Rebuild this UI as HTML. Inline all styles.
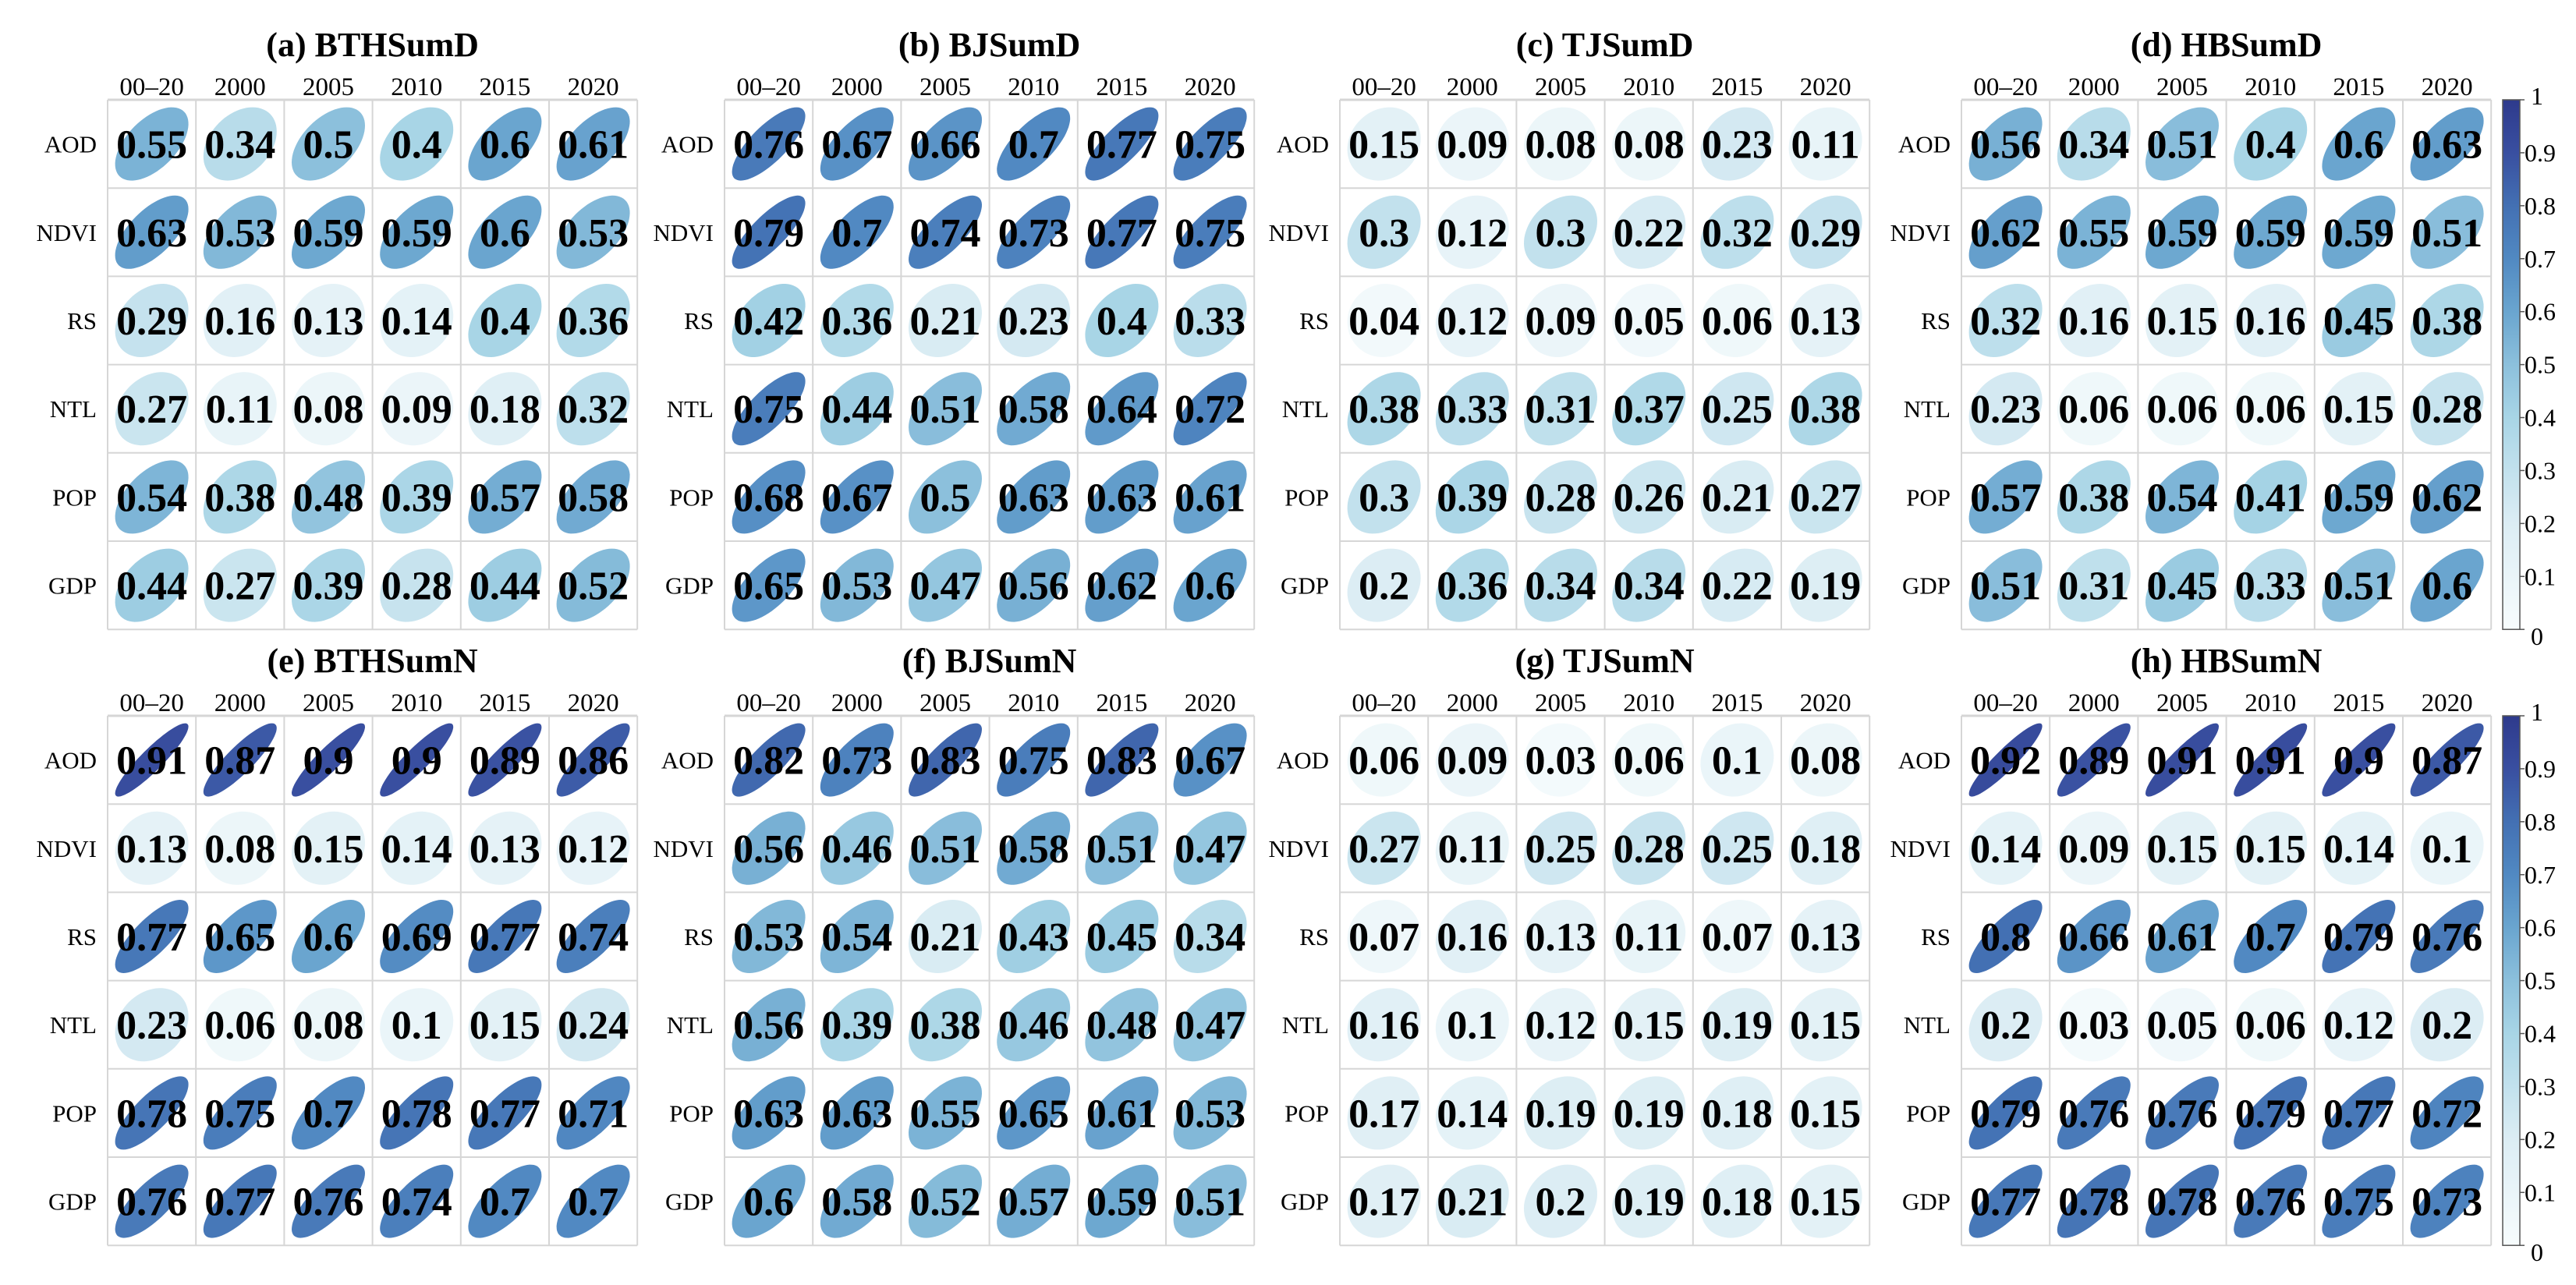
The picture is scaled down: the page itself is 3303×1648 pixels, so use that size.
<!DOCTYPE html>
<html><head><meta charset="utf-8"><style>
html,body{margin:0;padding:0;background:#fff;}
svg{display:block;}
text{font-family:"Liberation Serif","Times New Roman",serif;}
</style></head><body>
<svg id="chart" width="3303" height="1648" viewBox="0 0 3303 1648" xmlns="http://www.w3.org/2000/svg">
<defs>
<linearGradient id="cbgrad" x1="0" y1="1" x2="0" y2="0">
<stop offset="0" stop-color="#f7fcfd"/>
<stop offset="0.2" stop-color="#dcedf4"/>
<stop offset="0.4" stop-color="#a8d5e6"/>
<stop offset="0.5" stop-color="#8cc0dc"/>
<stop offset="0.6" stop-color="#6aa5cf"/>
<stop offset="0.7" stop-color="#5189c2"/>
<stop offset="0.8" stop-color="#4370b3"/>
<stop offset="0.9" stop-color="#394fa0"/>
<stop offset="1" stop-color="#2e3a8c"/>
</linearGradient>
</defs>
</svg>
<script>
const rowLabels = ["AOD","NDVI","RS","NTL","POP","GDP"];
const colLabels = ["00\u201320","2000","2005","2010","2015","2020"];
const panelTitles = ["(a) BTHSumD","(b) BJSumD","(c) TJSumD","(d) HBSumD","(e) BTHSumN","(f) BJSumN","(g) TJSumN","(h) HBSumN"];
const cbTicks = [0,0.1,0.2,0.3,0.4,0.5,0.6,0.7,0.8,0.9,1];
const dataA = [[.55,.34,.5,.4,.6,.61],[.63,.53,.59,.59,.6,.53],[.29,.16,.13,.14,.4,.36],[.27,.11,.08,.09,.18,.32],[.54,.38,.48,.39,.57,.58],[.44,.27,.39,.28,.44,.52]];
const dataB = [[.76,.67,.66,.7,.77,.75],[.79,.7,.74,.73,.77,.75],[.42,.36,.21,.23,.4,.33],[.75,.44,.51,.58,.64,.72],[.68,.67,.5,.63,.63,.61],[.65,.53,.47,.56,.62,.6]];
const dataC = [[.15,.09,.08,.08,.23,.11],[.3,.12,.3,.22,.32,.29],[.04,.12,.09,.05,.06,.13],[.38,.33,.31,.37,.25,.38],[.3,.39,.28,.26,.21,.27],[.2,.36,.34,.34,.22,.19]];
const dataD = [[.56,.34,.51,.4,.6,.63],[.62,.55,.59,.59,.59,.51],[.32,.16,.15,.16,.45,.38],[.23,.06,.06,.06,.15,.28],[.57,.38,.54,.41,.59,.62],[.51,.31,.45,.33,.51,.6]];
const dataE = [[.91,.87,.9,.9,.89,.86],[.13,.08,.15,.14,.13,.12],[.77,.65,.6,.69,.77,.74],[.23,.06,.08,.1,.15,.24],[.78,.75,.7,.78,.77,.71],[.76,.77,.76,.74,.7,.7]];
const dataF = [[.82,.73,.83,.75,.83,.67],[.56,.46,.51,.58,.51,.47],[.53,.54,.21,.43,.45,.34],[.56,.39,.38,.46,.48,.47],[.63,.63,.55,.65,.61,.53],[.6,.58,.52,.57,.59,.51]];
const dataG = [[.06,.09,.03,.06,.1,.08],[.27,.11,.25,.28,.25,.18],[.07,.16,.13,.11,.07,.13],[.16,.1,.12,.15,.19,.15],[.17,.14,.19,.19,.18,.15],[.17,.21,.2,.19,.18,.15]];
const dataH = [[.92,.89,.91,.91,.9,.87],[.14,.09,.15,.15,.14,.1],[.8,.66,.61,.7,.79,.76],[.2,.03,.05,.06,.12,.2],[.79,.76,.76,.79,.77,.72],[.77,.78,.78,.76,.75,.73]];
const panels = [dataA,dataB,dataC,dataD,dataE,dataF,dataG,dataH];

const NS = "http://www.w3.org/2000/svg";
const svg = document.getElementById("chart");
const panelX = [138, 929, 1718, 2515];
const panelY = [128, 918];
const cell = 113.2;
const stops = [[0,[247,252,253]],[0.2,[220,237,244]],[0.4,[168,213,230]],[0.5,[140,192,220]],[0.6,[106,165,207]],[0.7,[81,137,194]],[0.8,[67,112,179]],[0.9,[57,79,160]],[1,[46,58,140]]];
function color(v){
  v=Math.max(0,Math.min(1,v));
  for(let i=1;i<stops.length;i++){
    if(v<=stops[i][0]){
      const a=stops[i-1],b=stops[i],t=(v-a[0])/(b[0]-a[0]);
      const c=a[1].map((x,k)=>Math.round(x+(b[1][k]-x)*t));
      return "rgb("+c.join(",")+")";
    }
  }
  return "rgb(46,58,140)";
}
function mk(tag, attrs, parent){
  const e=document.createElementNS(NS,tag);
  for(const k in attrs) e.setAttribute(k,attrs[k]);
  (parent||svg).appendChild(e);
  return e;
}
function ellipsePath(cx,cy,r,s){
  const d=Math.acos(r);
  let p="";
  for(let i=0;i<=72;i++){
    const t=i/72*2*Math.PI;
    const x=cx+s*Math.cos(t+d/2), y=cy-s*Math.cos(t-d/2);
    p+=(i?"L":"M")+x.toFixed(1)+","+y.toFixed(1);
  }
  return p+"Z";
}
panels.forEach((data,pi)=>{
  const gx=panelX[pi%4], gy=panelY[Math.floor(pi/4)];
  const g=mk("g",{});
  
  
  const title=mk("text",{x:gx+3*cell,y:gy-56,"text-anchor":"middle","font-size":"44","font-weight":"bold",fill:"#000"},g);
  title.textContent=panelTitles[pi];
  
  
  colLabels.forEach((c,j)=>{
    const t=mk("text",{x:gx+(j+0.5)*cell,y:gy-6,"text-anchor":"middle","font-size":"33",fill:"#000"},g);
    t.textContent=c;
    
    
  });
  rowLabels.forEach((r,i)=>{
    const t=mk("text",{x:gx-14,y:gy+(i+0.5)*cell+11,"text-anchor":"end","font-size":"31",fill:"#000"},g);
    t.textContent=r;
    
    
  });
  // grid
  for(let k=0;k<=6;k++){
    mk("line",{x1:gx+k*cell,y1:gy,x2:gx+k*cell,y2:gy+6*cell,stroke:"#d6d6d6","stroke-width":"2"},g);
    mk("line",{x1:gx,y1:gy+k*cell,x2:gx+6*cell,y2:gy+k*cell,stroke:"#d6d6d6","stroke-width":k===0?"3":"2"},g);
  }
  data.forEach((row,i)=>row.forEach((v,j)=>{
    const cx=gx+(j+0.5)*cell, cy=gy+(i+0.5)*cell;
    const e=mk("path",{d:ellipsePath(cx,cy,v,47),fill:color(v)},g);
    
    
    const t=mk("text",{x:cx,y:cy+18,"text-anchor":"middle","font-size":"52","font-weight":"bold",fill:"#000"},g);
    t.textContent=String(v);
    
    
  }));
});
// colorbars
panelY.forEach((y0,bi)=>{
  const h=6*cell, x0=3209, w=22;
  const g=mk("g",{});
  
  
  mk("rect",{x:x0,y:y0,width:w,height:h,fill:"url(#cbgrad)",stroke:"#555","stroke-width":"1.5"},g);
  cbTicks.forEach(v=>{
    const y=y0+h-v*h;
    mk("line",{x1:x0+w,y1:y,x2:x0+w+6,y2:y,stroke:"#555","stroke-width":"1.5"},g);
    const t=mk("text",{x:x0+w+(v===0||v===1?14:6),y:y+(v===1?6:v===0?20:11),"font-size":"32",fill:"#000"},g);
    t.textContent=String(v);
    
    
  });
});
</script>
</body></html>
